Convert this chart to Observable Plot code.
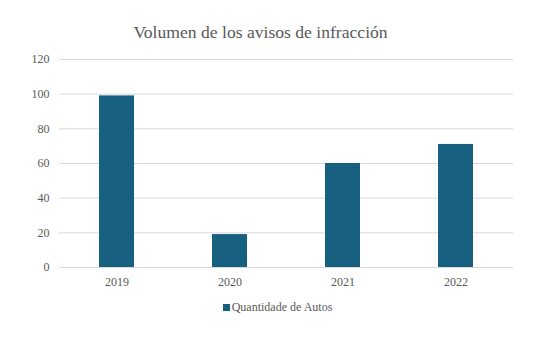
<!DOCTYPE html>
<html>
<head>
<meta charset="utf-8">
<script src="https://cdn.jsdelivr.net/npm/d3@7"></script>
<script src="https://cdn.jsdelivr.net/npm/@observablehq/plot@0.6"></script>
<style>
  html, body { margin: 0; padding: 0; background: #fff; font-family: "Liberation Serif", serif; }
  #wrap { position: relative; width: 555px; height: 341px; overflow: hidden; }
  #title { position: absolute; left: 0; top: 21px; width: 521px; text-align: center;
    font-family: "Liberation Serif", serif; font-size: 17.6px; color: #595959; line-height: 22px; }
  #legend { position: absolute; left: 0; top: 299px; width: 555px; text-align: center;
    font-family: "Liberation Serif", serif; font-size: 12px; color: #595959; line-height: 16px; }
  #legend .sw { display: inline-block; width: 7px; height: 7px; background: #17607f; margin-right: 2px; vertical-align: 0px; }
  #chart { position: absolute; left: 0; top: 0; }
  #chart svg, #chart svg text { font-family: "Liberation Serif", serif !important; font-size: 12px !important; }
</style>
</head>
<body>
<div id="wrap">
  <div id="chart"></div>
  <div id="title">Volumen de los avisos de infracción</div>
  <div id="legend"><span class="sw"></span>Quantidade de Autos</div>
</div>
<script>
const categories = ["2019", "2020", "2021", "2022"];
const values = [99, 19, 60, 71];
const seriesName = "Quantidade de Autos";
const yTicks = [0, 20, 40, 60, 80, 100, 120];

const data = categories.map((c, i) => ({year: c, value: values[i], series: seriesName}));

const chart = Plot.plot({
  width: 555,
  height: 341,
  marginTop: 59,
  marginBottom: 74,
  marginLeft: 59,
  marginRight: 42,
  style: "font-family: 'Liberation Serif', serif; font-size: 12px; color: #595959; background: transparent;",
  x: {domain: categories, paddingInner: 0.69, paddingOuter: 0.345, label: null},
  y: {domain: [0, 120], label: null},
  marks: [
    Plot.gridY(yTicks, {stroke: "#d9d9d9", strokeOpacity: 1, strokeWidth: 1}),
    Plot.barY(data, {x: "year", y: "value", fill: "#17607f"}),
    Plot.axisY(yTicks, {tickSize: 0, tickPadding: 10, label: null, fill: "#595959"}),
    Plot.axisX({tickSize: 0, tickPadding: 10, label: null, fill: "#595959"})
  ]
});
document.getElementById("chart").appendChild(chart);
</script>
</body>
</html>
